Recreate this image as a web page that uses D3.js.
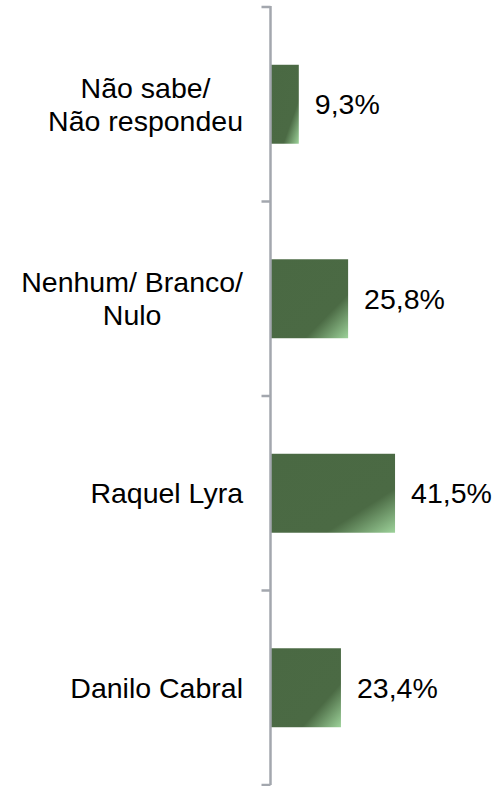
<!DOCTYPE html>
<html lang="pt">
<head>
<meta charset="UTF-8">
<title>Intenção de voto</title>
<script src="https://d3js.org/d3.v7.min.js"></script>
<style>
  body { margin: 0; background: #fff; }
  text { font-family: "Liberation Sans", Arial, sans-serif; fill: #000; }
  .axis line, .axis path { stroke: #a3a7ae; stroke-width: 2.5px; }
</style>
</head>
<body>
<script>
  // data, top to bottom
  const categories = ["Não sabe/\nNão respondeu", "Nenhum/ Branco/\nNulo", "Raquel Lyra", "Danilo Cabral"];
  const values = [9.3, 25.8, 41.5, 23.4];
  const valueLabels = ["9,3%", "25,8%", "41,5%", "23,4%"];

  const width = 496, height = 786;
  const axisX = 270.5;

  const svg = d3.select("body").append("svg")
    .attr("width", width)
    .attr("height", height);

  // bar gradient: dark green with a light corner bottom-right
  const grad = svg.append("defs").append("linearGradient")
    .attr("id", "barGrad")
    .attr("x1", 0).attr("y1", 0).attr("x2", 1).attr("y2", 1);
  grad.append("stop").attr("offset", "0").attr("stop-color", "#4a6943");
  grad.append("stop").attr("offset", "0.72").attr("stop-color", "#4b6a44");
  grad.append("stop").attr("offset", "1").attr("stop-color", "#9dd29a");

  const y = d3.scaleBand()
    .domain(categories)
    .range([7, 785])
    .paddingInner(0.594)
    .paddingOuter(0.297);

  const x = d3.scaleLinear()
    .domain([0, 45])
    .range([axisX + 0.5, axisX + 0.5 + 134.5]);

  // bars
  svg.selectAll(".bar")
    .data(values)
    .enter().append("rect")
    .attr("class", "bar")
    .attr("x", x(0))
    .attr("y", (d, i) => y(categories[i]))
    .attr("width", d => x(d) - x(0))
    .attr("height", y.bandwidth())
    .attr("fill", "url(#barGrad)");

  // axis line with ticks on category boundaries
  const ax = svg.append("g").attr("class", "axis");
  const bounds = d3.range(categories.length + 1).map(i => 7 + i * y.step());
  ax.append("line")
    .attr("x1", axisX).attr("x2", axisX)
    .attr("y1", bounds[0] - 1).attr("y2", bounds[bounds.length - 1]);
  ax.selectAll(".tick")
    .data(bounds)
    .enter().append("line")
    .attr("x1", axisX - 9).attr("x2", axisX)
    .attr("y1", d => d).attr("y2", d => d);

  // category labels: block right-aligned, lines centred within it
  const fs = 28.5, lineH = 33;
  categories.forEach((c, i) => {
    const lines = c.split("\n");
    const cy = y(c) + y.bandwidth() / 2;
    const g = svg.append("text")
      .attr("text-anchor", "middle")
      .style("font-size", fs + "px");
    const spans = lines.map((ln, j) => g.append("tspan")
      .attr("y", cy + 0.35 * fs + (j - (lines.length - 1) / 2) * lineH)
      .text(ln));
    const maxW = d3.max(spans, s => s.node().getComputedTextLength());
    spans.forEach(s => s.attr("x", 243 - maxW / 2));
  });

  // value labels
  svg.selectAll(".val")
    .data(values)
    .enter().append("text")
    .attr("class", "val")
    .attr("x", d => x(d) + 16)
    .attr("y", (d, i) => y(categories[i]) + y.bandwidth() / 2 + 0.35 * fs)
    .style("font-size", fs + "px")
    .text((d, i) => valueLabels[i]);
</script>
</body>
</html>
